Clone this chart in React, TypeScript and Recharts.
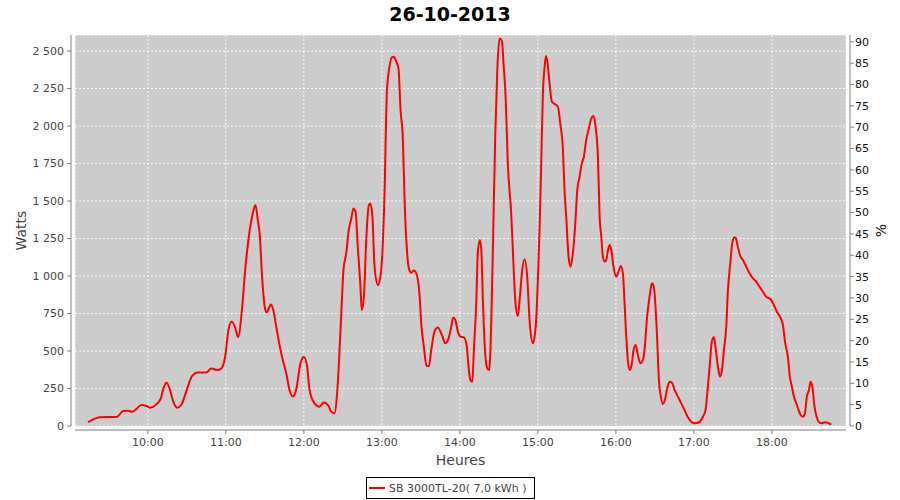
import {
  LineChart,
  Line,
  XAxis,
  YAxis,
  CartesianGrid,
  ReferenceArea,
  Legend,
} from "recharts";

// minutes after midnight for each reading
const minutes = [
  554, 563, 569, 576, 581, 585, 588, 591, 595, 599,
  602, 606.5, 610, 612.3, 614.4, 616.7, 619.2, 622.6, 625.7, 629.5,
  633.8, 638.5, 644.9, 648.8, 653.4, 656.5, 659.5, 662, 664.5, 667,
  669.5, 672.6, 674.9, 678.2, 680.8, 682.8, 684.6, 686, 688, 690,
  691.5, 694.7, 696.5, 698.8, 701.3, 703.8, 706.5, 709, 711.5, 714.6,
  717.2, 720, 722.5, 724.4, 728.2, 732, 735.4, 739, 741, 743.6,
  745.4, 747, 748.8, 750.5, 752.6, 754.6, 756.5, 758.2, 759.8, 761.5,
  763.4, 764.6, 766.2, 768, 770, 771.1, 772.6, 774.4, 777, 779.5,
  782, 783.9, 785.9, 787.7, 789.2, 791.1, 792.8, 794.4, 796.2, 797.5,
  799.5, 800.8, 802.6, 804.6, 806.5, 809, 810.3, 812.3, 814.4, 816.2,
  818, 820.5, 823.1, 826.2, 828.8, 831.3, 833.4, 834.9, 836.5, 838.5,
  840.5, 843.1, 845.2, 846.7, 848, 849.6, 850.8, 852.6, 853.8, 855.4,
  856.5, 857.7, 859.5, 861.1, 862.6, 864.2, 865.7, 867.2, 868.8, 870.5,
  872.3, 873.6, 875.2, 876.9, 879.5, 881.1, 882.8, 884.6, 886.2, 887.7,
  889.8, 891.8, 893.8, 896.2, 897.5, 899, 900, 901.3, 902.6, 903.8,
  905.2, 906.2, 907.5, 909, 910.8, 912.9, 915.4, 917.2, 919.3, 920.5,
  921.8, 923.6, 925.2, 926.9, 928.8, 930.3, 932.1, 933.8, 935.4, 937.2,
  939.2, 941.1, 942.8, 944.4, 946.2, 947.5, 948.8, 950, 951.3, 952.6,
  953.9, 955.2, 956.5, 958.2, 960.3, 962.1, 963.8, 965.4, 966.7, 968,
  969.2, 970.5, 972.1, 973.6, 975.2, 976.7, 978.8, 980.8, 982.3, 983.8,
  985.9, 987.7, 989.2, 990.5, 991.8, 993.1, 994.6, 996.2, 997.7, 999.5,
  1001.3, 1003.1, 1005.2, 1007.7, 1010.3, 1012.8, 1015.4, 1018, 1020.5, 1024,
  1026.9, 1029, 1030.3, 1032.1, 1033.8, 1035.4, 1036.9, 1038.5, 1040, 1041.6,
  1043.1, 1044.9, 1046.2, 1048, 1049.5, 1051.1, 1052.3, 1053.8, 1055.9, 1057.7,
  1060.3, 1062.8, 1065.4, 1068, 1070.5, 1073.1, 1075.7, 1079, 1081.5, 1083.8,
  1086.2, 1088.5, 1090.3, 1092.3, 1093.8, 1095.4, 1096.9, 1098.8, 1100.5, 1102.1,
  1103.8, 1105.4, 1106.9, 1108.5, 1109.8, 1111.3, 1112.8, 1114.4, 1115.9, 1118,
  1121.1, 1123.6, 1125.7,
];

const watts = [
  25, 58, 60, 60, 100, 102, 95, 111, 140, 133,
  122, 144, 184, 258, 289, 251, 173, 122, 140, 229,
  329, 356, 356, 384, 373, 384, 462, 640, 695, 662,
  593, 795, 1040, 1296, 1420, 1473, 1373, 1284, 980, 790,
  758, 810, 773, 662, 540, 440, 351, 240, 196, 262,
  410, 460, 400, 240, 151, 129, 156, 133, 96, 84,
  196, 418, 751, 1040, 1151, 1307, 1384, 1451, 1429, 1195,
  951, 773, 862, 1240, 1473, 1484, 1418, 1062, 940, 1040,
  1529, 2229, 2396, 2458, 2462, 2429, 2384, 2107, 1907, 1507,
  1151, 1051, 1022, 1036, 1018, 873, 684, 529, 400, 400,
  507, 629, 656, 607, 551, 584, 662, 724, 707, 629,
  596, 591, 540, 395, 307, 295, 507, 818, 1151, 1240,
  1173, 840, 484, 384, 373, 707, 1307, 1929, 2373, 2584,
  2569, 2418, 2196, 1751, 1418, 1107, 818, 733, 862, 1018,
  1111, 995, 684, 551, 596, 751, 973, 1307, 1751, 2196,
  2396, 2467, 2418, 2284, 2162, 2147, 2129, 2018, 1840, 1573,
  1396, 1129, 1062, 1151, 1351, 1573, 1662, 1751, 1795, 1907,
  1984, 2051, 2067, 1996, 1795, 1396, 1262, 1129, 1096, 1107,
  1173, 1207, 1173, 1062, 995, 1029, 1067, 1018, 818, 596,
  440, 373, 407, 507, 540, 484, 418, 440, 529, 707,
  862, 951, 929, 795, 573, 307, 196, 147, 173, 251,
  295, 289, 240, 196, 151, 107, 58, 29, 18, 25,
  62, 107, 218, 395, 562, 591, 507, 395, 329, 373,
  507, 662, 907, 1085, 1218, 1258, 1251, 1195, 1129, 1107,
  1062, 1018, 984, 962, 929, 895, 862, 845, 807, 762,
  729, 673, 551, 462, 329, 262, 196, 151, 107, 73,
  62, 84, 196, 240, 295, 251, 129, 62, 29, 18,
  25, 18, 11,
];

const hourTicks = [600, 660, 720, 780, 840, 900, 960, 1020, 1080];
const wattTicks = [0, 250, 500, 750, 1000, 1250, 1500, 1750, 2000, 2250, 2500];
const pctTicks = [0, 5, 10, 15, 20, 25, 30, 35, 40, 45, 50, 55, 60, 65, 70, 75, 80, 85, 90];

const title = "26-10-2013";
const seriesName = "SB 3000TL-20( 7,0 kWh )";

const data = minutes.map((t, i) => ({ t, w: watts[i] }));

const FONT = "'DejaVu Sans', sans-serif";
const AXIS = "#808080";
const TICK = "#444444";

const fmtHour = (m: number) => `${Math.floor(m / 60)}:00`;
const fmtWatts = (v: number) =>
  v >= 1000 ? `${Math.floor(v / 1000)} ${String(v % 1000).padStart(3, "0")}` : `${v}`;

// eslint-disable-next-line @typescript-eslint/no-explicit-any
function LegendBox({ payload }: any) {
  const item = payload?.[0];
  return (
    <div
      style={{
        boxSizing: "border-box",
        width: 169,
        height: 22,
        border: "1px solid #000",
        background: "#fff",
        display: "flex",
        alignItems: "center",
        paddingLeft: 2,
        fontFamily: FONT,
        fontSize: 11,
        color: TICK,
        whiteSpace: "nowrap",
      }}
    >
      <svg width={17} height={6} style={{ marginRight: 3 }}>
        <line x1={0} y1={3} x2={16} y2={3} stroke="#ff0000" strokeWidth={2} />
      </svg>
      <span>{item?.value ?? seriesName}</span>
    </div>
  );
}

export default function App() {
  return (
    <div
      style={{
        position: "absolute",
        left: 0,
        top: 0,
        width: 900,
        height: 500,
        background: "#fff",
        fontFamily: FONT,
      }}
    >
      <div
        style={{
          position: "absolute",
          top: 5,
          left: 0,
          width: 900,
          textAlign: "center",
          fontSize: 19,
          lineHeight: "19px",
          fontWeight: "bold",
          color: "#000",
        }}
      >
        {title}
      </div>
      <LineChart
        width={900}
        height={500}
        data={data}
        margin={{ top: 35, right: 0, bottom: 0, left: 0 }}
      >
        <CartesianGrid
          yAxisId="w"
          fill="#cccccc"
          fillOpacity={1}
          stroke="#ffffff"
          strokeOpacity={0.85}
          strokeDasharray="2 2"
        />
        <XAxis
          dataKey="t"
          type="number"
          domain={[544, 1137]}
          allowDataOverflow
          ticks={hourTicks}
          tickFormatter={fmtHour}
          height={74}
          tickSize={4}
          tickMargin={8}
          axisLine={{ stroke: AXIS, transform: "translate(0,4)" }}
          tickLine={{ stroke: AXIS, transform: "translate(0,4)" }}
          tick={{ fill: TICK, fontSize: 11, fontFamily: FONT }}
          label={{
            value: "Heures",
            content: () => (
              <text
                x={460.5}
                y={465}
                textAnchor="middle"
                fill={TICK}
                fontSize={14}
                fontFamily={FONT}
              >
                Heures
              </text>
            ),
          }}
        />
        <YAxis
          yAxisId="w"
          type="number"
          domain={[0, 2607]}
          allowDataOverflow
          ticks={wattTicks}
          tickFormatter={fmtWatts}
          width={75}
          tickSize={4}
          tickMargin={7}
          axisLine={{ stroke: AXIS, transform: "translate(-4,0)" }}
          tickLine={{ stroke: AXIS, transform: "translate(-4,0)" }}
          tick={{ fill: TICK, fontSize: 11, fontFamily: FONT }}
          label={{
            value: "Watts",
            content: () => (
              <text
                x={26}
                y={230.5}
                transform="rotate(-90 26 230.5)"
                textAnchor="middle"
                fill={TICK}
                fontSize={14}
                fontFamily={FONT}
              >
                Watts
              </text>
            ),
          }}
        />
        <YAxis
          yAxisId="p"
          orientation="right"
          type="number"
          domain={[0, 91.6]}
          allowDataOverflow
          ticks={pctTicks}
          width={54}
          tickSize={4}
          tickMargin={5}
          axisLine={{ stroke: AXIS, transform: "translate(4,0)" }}
          tickLine={{ stroke: AXIS, transform: "translate(4,0)" }}
          tick={{ fill: "#111", fontSize: 11, fontFamily: FONT }}
          label={{
            value: "%",
            content: () => (
              <text
                x={886}
                y={230.5}
                transform="rotate(-90 886 230.5)"
                textAnchor="middle"
                fill="#111"
                fontSize={14}
                fontFamily={FONT}
              >
                %
              </text>
            ),
          }}
        />
        <Line
          yAxisId="w"
          dataKey="w"
          name={seriesName}
          type="monotone"
          stroke="#ff0000"
          strokeWidth={2}
          dot={false}
          isAnimationActive={false}
        />
        <ReferenceArea yAxisId="w" fill="none" stroke={AXIS} strokeWidth={1} />
        <Legend
          layout="vertical"
          align="center"
          verticalAlign="middle"
          content={<LegendBox />}
          wrapperStyle={{ left: 366, top: 477 }}
        />
      </LineChart>
    </div>
  );
}
